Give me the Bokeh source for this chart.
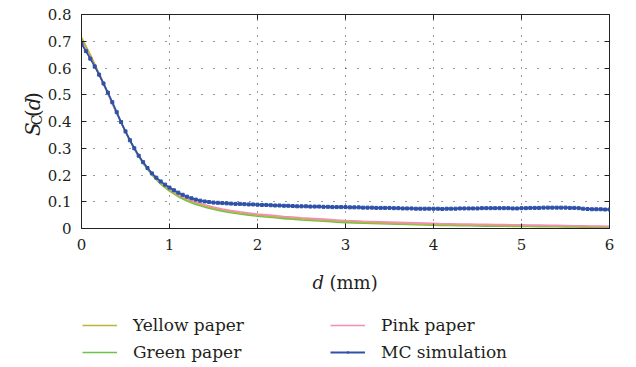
import math
from bokeh.plotting import figure
from bokeh.layouts import column, row
from bokeh.models import (Range1d, FixedTicker, LinearAxis, Legend, LegendItem, Label)
from bokeh.embed import file_html
from bokeh.resources import INLINE

# ---- data -------------------------------------------------------------
# measured curves sampled every 0.1 mm
d_paper = [round(0.1 * i, 1) for i in range(61)]

yellow_paper = [
    0.715, 0.650, 0.580, 0.506, 0.432, 0.362, 0.299, 0.246, 0.203, 0.169,
    0.144, 0.123, 0.107, 0.094, 0.084, 0.076, 0.069, 0.063, 0.058, 0.054,
    0.050, 0.047, 0.044, 0.041, 0.039, 0.036, 0.034, 0.032, 0.030, 0.028,
    0.026, 0.025, 0.024, 0.022, 0.021, 0.020, 0.019, 0.018, 0.017, 0.016,
    0.015, 0.0145, 0.014, 0.0135, 0.013, 0.0125, 0.012, 0.0115, 0.011, 0.0105,
    0.010, 0.0096, 0.0092, 0.0088, 0.0084, 0.008, 0.0076, 0.0072, 0.0068, 0.0064,
    0.006,
]

green_paper = [
    0.705, 0.645, 0.578, 0.505, 0.430, 0.360, 0.297, 0.243, 0.200, 0.166,
    0.140, 0.119, 0.103, 0.090, 0.080, 0.072, 0.065, 0.059, 0.054, 0.050,
    0.046, 0.043, 0.040, 0.037, 0.035, 0.032, 0.030, 0.028, 0.026, 0.024,
    0.022, 0.021, 0.020, 0.019, 0.018, 0.017, 0.016, 0.015, 0.014, 0.013,
    0.012, 0.0115, 0.011, 0.0105, 0.010, 0.0095, 0.009, 0.0087, 0.0083, 0.008,
    0.0077, 0.0073, 0.007, 0.0067, 0.0063, 0.006, 0.0057, 0.0053, 0.005, 0.0047,
    0.0044,
]

pink_paper = [
    0.700, 0.640, 0.575, 0.503, 0.430, 0.362, 0.300, 0.248, 0.206, 0.173,
    0.148, 0.128, 0.112, 0.099, 0.089, 0.080, 0.073, 0.067, 0.062, 0.058,
    0.054, 0.051, 0.048, 0.045, 0.043, 0.040, 0.038, 0.036, 0.034, 0.032,
    0.030, 0.029, 0.027, 0.026, 0.025, 0.024, 0.023, 0.022, 0.021, 0.020,
    0.019, 0.018, 0.0175, 0.017, 0.0165, 0.016, 0.0155, 0.015, 0.0145, 0.014,
    0.0135, 0.013, 0.0125, 0.012, 0.0115, 0.011, 0.0105, 0.010, 0.0095, 0.009,
    0.0085,
]

# Monte Carlo result sampled every 0.05 mm
d_mc = [round(0.05 * i, 2) for i in range(121)]

mc_simulation = [
    0.690, 0.663, 0.635, 0.606, 0.575, 0.542, 0.508, 0.472, 0.435, 0.398,
    0.363, 0.330, 0.300, 0.272, 0.248, 0.226, 0.206, 0.190, 0.176, 0.164,
    0.153, 0.143, 0.134, 0.126, 0.119, 0.113, 0.108, 0.104, 0.101, 0.099,
    0.097, 0.096, 0.095, 0.094, 0.093, 0.092, 0.092, 0.091, 0.090, 0.090,
    0.089, 0.088, 0.088, 0.087, 0.086, 0.086, 0.085, 0.085, 0.084, 0.083,
    0.083, 0.083, 0.082, 0.082, 0.082, 0.081, 0.081, 0.080, 0.080, 0.080,
    0.080, 0.079, 0.079, 0.079, 0.078, 0.078, 0.078, 0.077, 0.077, 0.077,
    0.077, 0.076, 0.076, 0.075, 0.075, 0.075, 0.074, 0.074, 0.074, 0.074,
    0.074, 0.074, 0.073, 0.074, 0.074, 0.074, 0.075, 0.075, 0.075, 0.075,
    0.075, 0.076, 0.076, 0.076, 0.076, 0.076, 0.076, 0.076, 0.075, 0.075,
    0.076, 0.076, 0.077, 0.077, 0.077, 0.078, 0.078, 0.078, 0.078, 0.078,
    0.078, 0.077, 0.077, 0.076, 0.074, 0.073, 0.072, 0.072, 0.072, 0.071,
    0.071,
]

x_ticks = [0, 1, 2, 3, 4, 5, 6]
y_ticks = [0, 0.1, 0.2, 0.3, 0.4, 0.5, 0.6, 0.7, 0.8]
y_tick_labels = ["0", "0.1", "0.2", "0.3", "0.4", "0.5", "0.6", "0.7", "0.8"]

series_names = ["Yellow paper", "Green paper", "Pink paper", "MC simulation"]
series_colors = ["#b9b63a", "#6cc24a", "#f28db6", "#2f52a8"]

SERIF = "DejaVu Serif"
TEXT_COLOR = "#231f20"
FRAME_COLOR = "#222222"


def blank_figure(w, h):
    """A figure whose frame fills the whole canvas, used for text/legend strips."""
    f = figure(width=w, height=h, output_backend="svg", toolbar_location=None,
               x_range=Range1d(0, w), y_range=Range1d(0, h),
               x_axis_location=None, y_axis_location=None,
               min_border=0, outline_line_color=None)
    f.xgrid.visible = False
    f.ygrid.visible = False
    return f


# ---- main plot --------------------------------------------------------
p = figure(width=592, height=258, output_backend="svg", toolbar_location=None,
           x_range=Range1d(0, 6), y_range=Range1d(0, 0.8),
           min_border_left=35, min_border_right=27,
           min_border_top=14, min_border_bottom=30)
p.outline_line_color = FRAME_COLOR
p.outline_line_width = 1

for ax, ticks in ((p.xaxis[0], x_ticks), (p.yaxis[0], y_ticks)):
    ax.ticker = FixedTicker(ticks=ticks)
    ax.major_tick_in = 5
    ax.major_tick_out = 0
    ax.minor_tick_line_color = None
    ax.axis_line_color = FRAME_COLOR
    ax.major_tick_line_color = FRAME_COLOR
    ax.major_label_text_font = SERIF
    ax.major_label_text_font_size = "15px"
    ax.major_label_text_color = TEXT_COLOR

p.xaxis.major_label_standoff = 10
p.yaxis.major_label_standoff = 10
p.yaxis.major_label_overrides = {t: s for t, s in zip(y_ticks, y_tick_labels)}

# mirrored tick marks on the top and right edges (no labels)
top_axis = LinearAxis(ticker=FixedTicker(ticks=x_ticks), major_tick_in=5, major_tick_out=0,
                      minor_tick_line_color=None, axis_line_color=None,
                      major_tick_line_color=FRAME_COLOR,
                      major_label_overrides={t: "" for t in x_ticks})
right_axis = LinearAxis(ticker=FixedTicker(ticks=y_ticks), major_tick_in=5, major_tick_out=0,
                        minor_tick_line_color=None, axis_line_color=None,
                        major_tick_line_color=FRAME_COLOR,
                        major_label_overrides={t: "" for t in y_ticks})
p.add_layout(top_axis, "above")
p.add_layout(right_axis, "right")

# dotted grid
p.xgrid.ticker = FixedTicker(ticks=x_ticks)
p.ygrid.ticker = FixedTicker(ticks=y_ticks)
p.xgrid.grid_line_color = "#333333"
p.ygrid.grid_line_color = "#333333"
p.xgrid.grid_line_dash = "1 7"
p.ygrid.grid_line_dash = "1 11"

p.line(d_paper, green_paper, line_color=series_colors[1], line_width=1.6)
p.line(d_paper, yellow_paper, line_color=series_colors[0], line_width=1.6)
p.line(d_paper, pink_paper, line_color=series_colors[2], line_width=1.6)
p.line(d_mc, mc_simulation, line_color=series_colors[3], line_width=1.8)
p.scatter(d_mc, mc_simulation, marker="square", size=3,
          line_color=series_colors[3], fill_color=series_colors[3])

# ---- y-axis title strip: S_C(d) ---------------------------------------
ylab_fig = blank_figure(44, 258)
rot = math.pi / 2
ylab_parts = [("S", "italic", "20px", 32, 111.5),
              ("C", "normal", "14px", 36, 124.5),
              ("(", "normal", "20px", 32, 134.5),
              ("d", "italic", "20px", 32, 142.5),
              (")", "normal", "20px", 32, 155.0)]
for txt, style, size, bx, by in ylab_parts:
    ylab_fig.add_layout(Label(x=bx, y=by, text=txt, angle=rot,
                              text_font=SERIF, text_font_style=style,
                              text_font_size=size, text_color=TEXT_COLOR,
                              text_baseline="alphabetic", text_align="left"))

# ---- bottom strip: x-axis title and legend ----------------------------
bottom = blank_figure(636, 109)
bottom.add_layout(Label(x=312, y=85, text="d", text_font=SERIF,
                        text_font_style="italic", text_font_size="18px",
                        text_color=TEXT_COLOR, text_baseline="middle", text_align="left"))
bottom.add_layout(Label(x=329, y=85, text="(mm)", text_font=SERIF,
                        text_font_size="18px", text_color=TEXT_COLOR,
                        text_baseline="middle", text_align="left"))

# legend swatches take their styling from these renderers, whose points
# sit outside the visible range of the strip
off = ([-20, -10], [-20, -20])
g_yellow = bottom.line(*off, line_color=series_colors[0], line_width=1.6)
g_green = bottom.line(*off, line_color=series_colors[1], line_width=1.6)
g_pink = bottom.line(*off, line_color=series_colors[2], line_width=1.6)
g_mc = bottom.line(*off, line_color=series_colors[3], line_width=1.8)
g_mc_pt = bottom.scatter(*off, marker="dot", size=3,
                         line_color=series_colors[3], fill_color=series_colors[3])


def make_legend(items, x):
    return Legend(items=items, location=(x, 3), orientation="vertical",
                  padding=0, spacing=3, margin=0,
                  glyph_width=35, glyph_height=24, label_height=24,
                  label_standoff=16, border_line_color=None,
                  background_fill_alpha=0,
                  label_text_font=SERIF, label_text_font_size="17px",
                  label_text_color=TEXT_COLOR)


bottom.add_layout(make_legend([LegendItem(label=series_names[0], renderers=[g_yellow]),
                               LegendItem(label=series_names[1], renderers=[g_green])], 82))
bottom.add_layout(make_legend([LegendItem(label=series_names[2], renderers=[g_pink]),
                               LegendItem(label=series_names[3], renderers=[g_mc, g_mc_pt])], 330))

layout = column(row(ylab_fig, p, spacing=0), bottom, spacing=0)

open("out.html", "w").write(file_html(layout, INLINE))
